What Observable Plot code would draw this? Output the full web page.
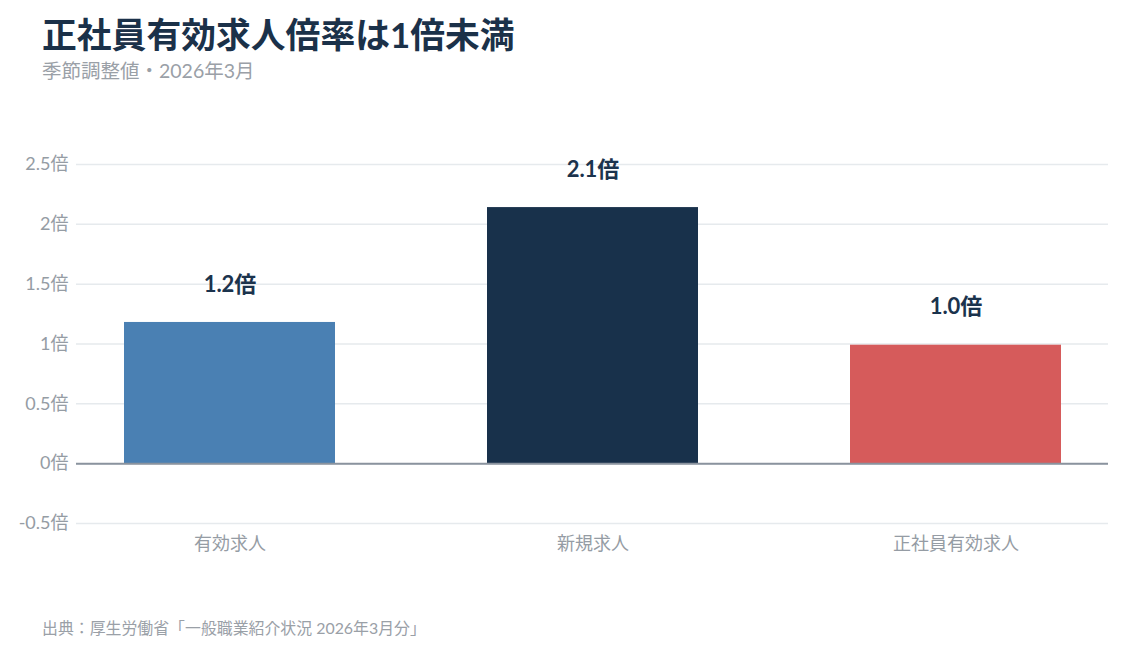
<!DOCTYPE html>
<html>
<head>
<meta charset="utf-8">
<script src="https://cdn.jsdelivr.net/npm/d3@7"></script>
<script src="https://cdn.jsdelivr.net/npm/@observablehq/plot@0.6"></script>
<style>
  html, body { margin: 0; padding: 0; background: #fff; }
  body { width: 1123px; height: 649px; position: relative; overflow: hidden;
         font-family: Lato, "Noto Sans CJK JP", sans-serif; }
  #title { position: absolute; left: 42px; top: 8px; font-size: 34.8px; font-weight: 700; color: #1b3149; white-space: nowrap; }
  #subtitle { position: absolute; left: 42px; top: 55px; font-size: 19.5px; color: #9aa0a7; white-space: nowrap; }
  #chart { position: absolute; left: 0; top: 100px; }
  #caption { position: absolute; left: 42px; top: 616px; font-size: 15.9px; color: #9aa0a7; white-space: nowrap; }
</style>
</head>
<body>
<div id="title">正社員有効求人倍率は1倍未満</div>
<div id="subtitle">季節調整値・2026年3月</div>
<div id="chart"></div>
<div id="caption">出典：厚生労働省「一般職業紹介状況 2026年3月分」</div>
<script>
const categories = ["有効求人", "新規求人", "正社員有効求人"];
const values = [1.18, 2.14, 0.99];
const colors = ["#4a80b3", "#18314b", "#d65b5b"];
const yTicks = [-0.5, 0, 0.5, 1, 1.5, 2, 2.5];

const data = categories.map((c, i) => ({ category: c, value: values[i], color: colors[i] }));

const chart = Plot.plot({
  width: 1123,
  height: 463,
  marginLeft: 76,
  marginRight: 15,
  marginTop: 64,
  marginBottom: 40,
  style: { fontFamily: 'Lato, "Noto Sans CJK JP", sans-serif', fontSize: "18px", color: "#959ca4", background: "transparent" },
  x: { domain: categories, paddingInner: 0.42, paddingOuter: 0.13, label: null },
  y: { domain: [-0.5, 2.5], label: null },
  marks: [
    Plot.ruleY(yTicks, { stroke: "#e6eaed", strokeWidth: 1.5 }),
    Plot.axisY({ ticks: yTicks, tickFormat: d => `${d}倍`, tickSize: 0, tickPadding: 8, label: null, fontSize: 18 }),
    Plot.axisX({ tickSize: 0, tickPadding: 14, label: null, fontSize: 18 }),
    Plot.barY(data, { x: "category", y: "value", fill: "color" }),
    Plot.ruleY([0], { stroke: "#8a939e", strokeWidth: 2 }),
    Plot.text(data, { x: "category", y: "value", text: d => `${d3.format(".1f")(d.value)}倍`, dy: -38, fontSize: 22, fontWeight: 700, fill: "#1b334d" })
  ]
});
document.getElementById("chart").appendChild(chart);
</script>
</body>
</html>
